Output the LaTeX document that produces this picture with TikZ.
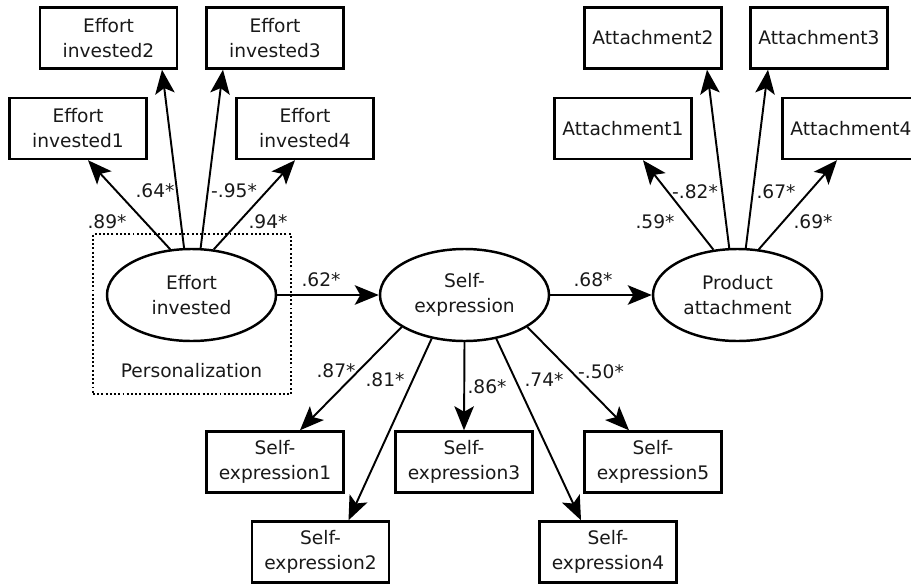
\documentclass[tikz,border=0pt]{standalone}
\usepackage{fontspec}
\setmainfont{DejaVu Sans}
\usetikzlibrary{shapes.geometric,arrows.meta}

\begin{document}
\begin{tikzpicture}[
  txt/.style={font=\fontsize{10.6}{14.2}\selectfont, align=center, text=black!90},
  item/.style={rectangle, draw, line width=1.4pt, minimum width=2.74cm, minimum height=1.22cm,
               inner sep=0pt, txt},
  latent/.style={ellipse, draw, line width=1.4pt, minimum width=3.38cm, minimum height=1.84cm,
                 inner sep=0pt, txt},
  load/.style={txt, inner sep=0pt},
  arrow/.style={-{Stealth[length=4.8mm, width=3.9mm, inset=1.1mm]}, line width=1.1pt},
]

\useasboundingbox (0,0) rectangle (18.22,-11.66);

% effort invested and its items
\node[draw, dash pattern=on 1.1pt off 1.3pt, line width=1.3pt, minimum width=3.96cm, minimum height=3.2cm] (pers) at (3.84,-6.28) {};
\node[latent] (ei) at (3.83,-5.90) {Effort\\invested};
\node[load] (perslab) at (3.83,-7.42) {Personalization};
\node[item] (ei1) at (1.56,-2.57) {Effort\\invested1};
\node[item] (ei2) at (2.17,-0.76) {Effort\\invested2};
\node[item] (ei3) at (5.50,-0.76) {Effort\\invested3};
\node[item] (ei4) at (6.10,-2.57) {Effort\\invested4};

% self-expression and its items
\node[latent] (se) at (9.29,-5.90) {Self-\\expression};
\node[item] (se1) at (5.50,-9.24) {Self-\\expression1};
\node[item] (se2) at (6.41,-11.04) {Self-\\expression2};
\node[item] (se3) at (9.28,-9.24) {Self-\\expression3};
\node[item] (se4) at (12.16,-11.04) {Self-\\expression4};
\node[item] (se5) at (13.06,-9.24) {Self-\\expression5};

% product attachment and its items
\node[latent] (pa) at (14.75,-5.90) {Product\\attachment};
\node[item] (at1) at (12.46,-2.57) {Attachment1};
\node[item] (at2) at (13.06,-0.76) {Attachment2};
\node[item] (at3) at (16.38,-0.76) {Attachment3};
\node[item] (at4) at (17.02,-2.57) {Attachment4};

\draw[arrow] (ei.115.5) -- ([xshift=0.20cm]ei1.south);
\draw[arrow] (ei.99) -- ([xshift=1.07cm]ei2.south);
\draw[arrow] (ei.79.5) -- ([xshift=-1.04cm]ei3.south);
\draw[arrow] (ei.64.5) -- ([xshift=-0.20cm]ei4.south);

\draw[arrow] (pa.118) -- ([xshift=0.40cm]at1.south);
\draw[arrow] (pa.100.5) -- ([xshift=1.08cm]at2.south);
\draw[arrow] (pa.80.7) -- ([xshift=-1.02cm]at3.south);
\draw[arrow] (pa.65) -- ([xshift=-0.28cm]at4.south);

\draw[arrow] (se.207.7) -- ([xshift=0.50cm]se1.north);
\draw[arrow] (se.233.6) -- ([xshift=0.56cm]se2.north);
\draw[arrow] (se.270) -- (se3.north);
\draw[arrow] (se.306.2) -- ([xshift=-0.54cm]se4.north);
\draw[arrow] (se.333) -- ([xshift=-0.48cm]se5.north);

\draw[arrow] (ei.east) -- (se.west);
\draw[arrow] (se.east) -- (pa.west);

% loadings
\node[load] (l89) at (2.14,-4.44) {.89*};
\node[load] (l64) at (3.10,-3.82) {.64*};
\node[load] (l95) at (4.68,-3.82) {-.95*};
\node[load] (l94) at (5.36,-4.44) {.94*};
\node[load] (l62) at (6.42,-5.60) {.62*};
\node[load] (l68) at (11.86,-5.60) {.68*};
\node[load] (l59) at (13.10,-4.44) {.59*};
\node[load] (l82) at (13.90,-3.84) {-.82*};
\node[load] (l67) at (15.52,-3.84) {.67*};
\node[load] (l69) at (16.26,-4.44) {.69*};
\node[load] (l87) at (6.72,-7.42) {.87*};
\node[load] (l81) at (7.70,-7.60) {.81*};
\node[load] (l86) at (9.74,-7.74) {.86*};
\node[load] (l74) at (10.88,-7.60) {.74*};
\node[load] (l50) at (12.02,-7.44) {-.50*};

\end{tikzpicture}
\end{document}
